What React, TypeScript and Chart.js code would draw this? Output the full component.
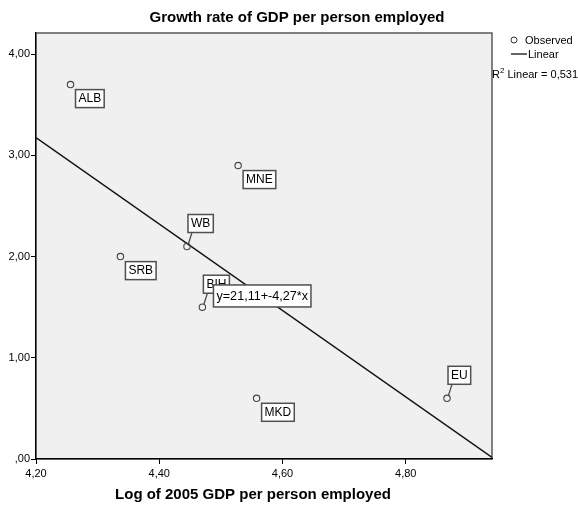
import React, { useEffect, useRef } from "react";
import { Chart, registerables } from "chart.js";

Chart.register(...registerables);

// ---- data ----
const countries = ["ALB", "SRB", "MNE", "WB", "BIH", "MKD", "EU"];
const logGdp = [4.256, 4.337, 4.528, 4.445, 4.47, 4.558, 4.867];
const growthRate = [3.7, 2.0, 2.9, 2.1, 1.5, 0.6, 0.6];
const fitIntercept = 21.11;
const fitSlope = -4.27;
const rSquaredText = "0,531";
const equationText = "y=21,11+-4,27*x";
const equationAnchor = { x: 4.488, y: 1.72 };
const xTickValues = [4.2, 4.4, 4.6, 4.8];
const xTickLabels = ["4,20", "4,40", "4,60", "4,80"];
const yTickValues = [0, 1, 2, 3, 4];
const yTickLabels = [",00", "1,00", "2,00", "3,00", "4,00"];
const xRange = [4.2, 4.94];
const yRange = [0, 4.21];
const chartTitle = "Growth rate of GDP per person employed";
const xTitle = "Log of 2005 GDP per person employed";

// style: which labels are drawn as callouts above the point
const calloutLabels = new Set(["WB", "BIH", "EU"]);

const FONT = "'Liberation Sans', Arial, sans-serif";

export default function App() {
  const ref = useRef<HTMLCanvasElement | null>(null);

  useEffect(() => {
    document.body.style.margin = "0";
    const canvas = ref.current!;
    const points = countries.map((c, i) => ({ x: logGdp[i], y: growthRate[i] }));
    const fitLine = xRange.map((x) => ({ x, y: fitIntercept + fitSlope * x }));

    const decor = {
      id: "decor",
      beforeDraw(chart: any) {
        const { ctx, chartArea: a } = chart;
        ctx.save();
        ctx.fillStyle = "#f0f0f0";
        ctx.fillRect(a.left, a.top, a.right - a.left, a.bottom - a.top);
        ctx.strokeStyle = "#5a5a5a";
        ctx.lineWidth = 1.5;
        ctx.strokeRect(a.left, a.top, a.right - a.left, a.bottom - a.top);
        ctx.restore();
      },
      afterDraw(chart: any) {
        const { ctx } = chart;
        const xs = chart.scales.x;
        const ys = chart.scales.y;
        ctx.save();
        // point labels
        ctx.font = `12px ${FONT}`;
        ctx.textBaseline = "middle";
        ctx.textAlign = "left";
        countries.forEach((c, i) => {
          const px = xs.getPixelForValue(logGdp[i]);
          const py = ys.getPixelForValue(growthRate[i]);
          const w = ctx.measureText(c).width + 6;
          const h = 18;
          let bx: number, by: number;
          if (calloutLabels.has(c)) {
            bx = px + 1;
            by = py - 32;
            ctx.strokeStyle = "#444";
            ctx.lineWidth = 1.2;
            ctx.beginPath();
            ctx.moveTo(px + 1.5, py - 3);
            ctx.lineTo(px + 5, by + h);
            ctx.stroke();
          } else {
            bx = px + 5;
            by = py + 5;
          }
          ctx.fillStyle = "#fff";
          ctx.fillRect(bx, by, w, h);
          ctx.strokeStyle = "#505050";
          ctx.lineWidth = 1.5;
          ctx.strokeRect(bx, by, w, h);
          ctx.fillStyle = "#000";
          ctx.fillText(c, bx + 3, by + h / 2 + 0.5);
        });
        // equation box
        {
          ctx.font = `12.6px ${FONT}`;
          const bx = xs.getPixelForValue(equationAnchor.x);
          const by = ys.getPixelForValue(equationAnchor.y);
          const w = ctx.measureText(equationText).width + 6;
          const h = 22;
          ctx.fillStyle = "#fff";
          ctx.fillRect(bx, by, w, h);
          ctx.strokeStyle = "#505050";
          ctx.lineWidth = 1.5;
          ctx.strokeRect(bx, by, w, h);
          ctx.fillStyle = "#000";
          ctx.fillText(equationText, bx + 3, by + h / 2 + 0.5);
        }
        // titles
        ctx.font = `bold 15px ${FONT}`;
        ctx.textAlign = "center";
        ctx.fillStyle = "#000";
        ctx.fillText(chartTitle, 297, 18);
        ctx.fillText(xTitle, 253, 495);
        // legend
        ctx.font = `11px ${FONT}`;
        ctx.textAlign = "left";
        ctx.strokeStyle = "#333";
        ctx.lineWidth = 1;
        ctx.beginPath();
        ctx.arc(514, 40, 3, 0, Math.PI * 2);
        ctx.stroke();
        ctx.fillText("Observed", 525, 41);
        ctx.lineWidth = 1.5;
        ctx.strokeStyle = "#333";
        ctx.beginPath();
        ctx.moveTo(511, 54);
        ctx.lineTo(527, 54);
        ctx.stroke();
        ctx.fillText("Linear", 528, 55);
        ctx.fillText("R", 492, 75);
        const rw = ctx.measureText("R").width;
        ctx.font = `8px ${FONT}`;
        ctx.fillText("2", 492 + rw, 71);
        const sw = ctx.measureText("2").width;
        ctx.font = `11px ${FONT}`;
        ctx.fillText(" Linear = " + rSquaredText, 492 + rw + sw, 75);
        ctx.restore();
      },
    };

    const chart = new Chart(canvas, {
      type: "scatter",
      data: {
        datasets: [
          {
            data: points,
            pointRadius: 3.2,
            pointBorderWidth: 1.1,
            pointBorderColor: "#444",
            pointBackgroundColor: "rgba(0,0,0,0)",
            showLine: false,
            order: 1,
          } as any,
          {
            type: "line",
            data: fitLine,
            borderColor: "#111",
            borderWidth: 1.3,
            pointRadius: 0,
            fill: false,
            order: 2,
          } as any,
        ],
      },
      options: {
        responsive: false,
        animation: false,
        events: [],
        layout: { padding: { top: 33, right: 86, left: 0, bottom: 0 } },
        plugins: { legend: { display: false }, tooltip: { enabled: false }, title: { display: false } },
        scales: {
          x: {
            type: "linear",
            min: xRange[0],
            max: xRange[1],
            afterBuildTicks: (s: any) => {
              s.ticks = xTickValues.map((v) => ({ value: v }));
            },
            afterFit: (s: any) => {
              s.height = 46;
            },
            ticks: {
              callback: (_v: any, i: number) => xTickLabels[i],
              font: { family: FONT, size: 11 },
              color: "#000",
              padding: 3,
              maxRotation: 0,
              autoSkip: false,
            },
            grid: { drawOnChartArea: false, drawTicks: true, tickLength: 5, color: "#000", lineWidth: 1 },
            border: { display: true, color: "#000", width: 1.2 },
          },
          y: {
            type: "linear",
            min: yRange[0],
            max: yRange[1],
            afterBuildTicks: (s: any) => {
              s.ticks = yTickValues.map((v) => ({ value: v }));
            },
            afterFit: (s: any) => {
              s.width = 36;
            },
            ticks: {
              callback: (_v: any, i: number) => yTickLabels[i],
              font: { family: FONT, size: 11 },
              color: "#000",
              padding: 1,
              autoSkip: false,
            },
            grid: { drawOnChartArea: false, drawTicks: true, tickLength: 5, color: "#000", lineWidth: 1 },
            border: { display: true, color: "#000", width: 1.2 },
          },
        },
      },
      plugins: [decor],
    });
    return () => chart.destroy();
  }, []);

  return <canvas ref={ref} width={578} height={505} style={{ display: "block" }} />;
}
